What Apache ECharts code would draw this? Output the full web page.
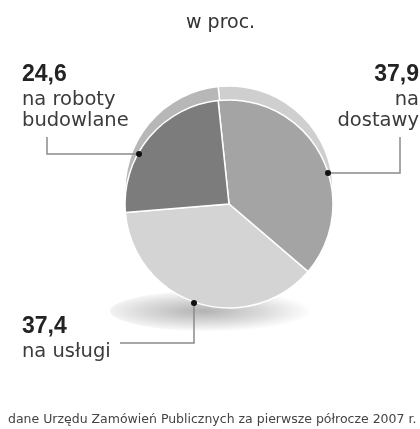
<!DOCTYPE html>
<html>
<head>
<meta charset="utf-8">
<title>Zamówienia publiczne</title>
<script src="https://cdn.jsdelivr.net/npm/echarts@6/dist/echarts.min.js"></script>
<style>
  html, body { margin: 0; padding: 0; background: #fff; }
  #chart { width: 420px; height: 429px; }
</style>
</head>
<body>
<div id="chart"></div>
<script>
const categories = ['dostawy', 'usługi', 'roboty budowlane']
const values = [37.9, 37.4, 24.6]
const valueLabels = ['37,9', '37,4', '24,6']
const labelLines = [['na', 'dostawy'], ['na usługi'], ['na roboty', 'budowlane']]
const titleText = 'w proc.'
const sourceText = 'dane Urzędu Zamówień Publicznych za pierwsze półrocze 2007 r.'

const sliceColors = ['#a4a4a4', '#d4d4d4', '#7c7c7c']
const rimColors = ['#cfcfcf', '#e4e4e4', '#b7b7b7']

// where each label sits and how its leader line bends
const labelPlaces = [
  { x: 419, y: 61, align: 'right', line: [[328, 173], [400, 173], [400, 137]] },
  { x: 22, y: 313, align: 'left', line: [[194, 303], [194, 343], [120, 343]] },
  { x: 22, y: 61, align: 'left', line: [[139, 154], [47, 154], [47, 137]] },
]

const pieCenter = [229, 204]
const pieRadius = 104
const rimLift = 14

const richFor = (align) => ({
  v: {
    fontFamily: 'Liberation Sans',
    fontWeight: 'bold',
    fontSize: 23,
    lineHeight: 28,
    color: '#232323',
    align,
  },
  t: {
    fontFamily: 'DejaVu Sans',
    fontSize: 19.5,
    lineHeight: 21,
    color: '#3b3b3b',
    align,
  },
})

const chart = echarts.init(document.getElementById('chart'), null, { renderer: 'canvas' })

chart.setOption({
  animation: false,
  backgroundColor: '#fff',
  title: [{
    text: titleText,
    left: 186,
    top: 12,
    padding: 0,
    textStyle: {
      fontFamily: 'DejaVu Sans',
      fontSize: 19,
      fontWeight: 'normal',
      lineHeight: 22,
      color: '#333',
    },
  }, {
    text: sourceText,
    left: 8,
    top: 412,
    padding: 0,
    textStyle: {
      fontFamily: 'DejaVu Sans',
      fontSize: 12.5,
      fontWeight: 'normal',
      lineHeight: 15,
      color: '#444',
    },
  }],
  graphic: [{
    type: 'circle',
    x: 220,
    y: 311,
    scaleY: 0.19,
    silent: true,
    z: 0,
    shape: { r: 110 },
    style: {
      fill: new echarts.graphic.RadialGradient(0.42, 0.5, 0.5, [
        { offset: 0, color: 'rgba(0,0,0,0.3)' },
        { offset: 0.6, color: 'rgba(0,0,0,0.13)' },
        { offset: 1, color: 'rgba(0,0,0,0)' },
      ]),
    },
  }].concat(labelPlaces.map((p) => ({
    type: 'circle',
    x: p.line[0][0],
    y: p.line[0][1],
    z: 100,
    silent: true,
    shape: { r: 3 },
    style: { fill: '#111' },
  }))),
  series: [{
    name: 'rim',
    type: 'pie',
    silent: true,
    z: 1,
    center: [pieCenter[0], pieCenter[1] - rimLift],
    radius: pieRadius,
    startAngle: 96,
    label: { show: false },
    labelLine: { show: false },
    emphasis: { disabled: true },
    itemStyle: { borderColor: '#fff', borderWidth: 1.5 },
    data: categories.map((name, i) => ({
      name,
      value: values[i],
      itemStyle: { color: rimColors[i] },
    })),
  }, {
    name: 'udział',
    type: 'pie',
    z: 2,
    center: pieCenter,
    radius: pieRadius,
    startAngle: 96,
    avoidLabelOverlap: false,
    emphasis: { disabled: true },
    itemStyle: { borderColor: '#fff', borderWidth: 1.5 },
    label: {
      show: true,
      position: 'outside',
      formatter: (params) => {
        const i = params.dataIndex
        return [`{v|${valueLabels[i]}}`].concat(labelLines[i].map((t) => `{t|${t}}`)).join('\n')
      },
    },
    labelLine: {
      show: true,
      lineStyle: { color: '#8a8a8a', width: 1.5 },
    },
    labelLayout: (params) => {
      const p = labelPlaces[params.dataIndex]
      return {
        x: p.x,
        y: p.y,
        align: p.align,
        verticalAlign: 'top',
        labelLinePoints: p.line,
      }
    },
    data: categories.map((name, i) => ({
      name,
      value: values[i],
      itemStyle: { color: sliceColors[i] },
      label: { rich: richFor(labelPlaces[i].align) },
    })),
  }],
})

window.addEventListener('resize', () => {
  chart.resize()
})
</script>
</body>
</html>
